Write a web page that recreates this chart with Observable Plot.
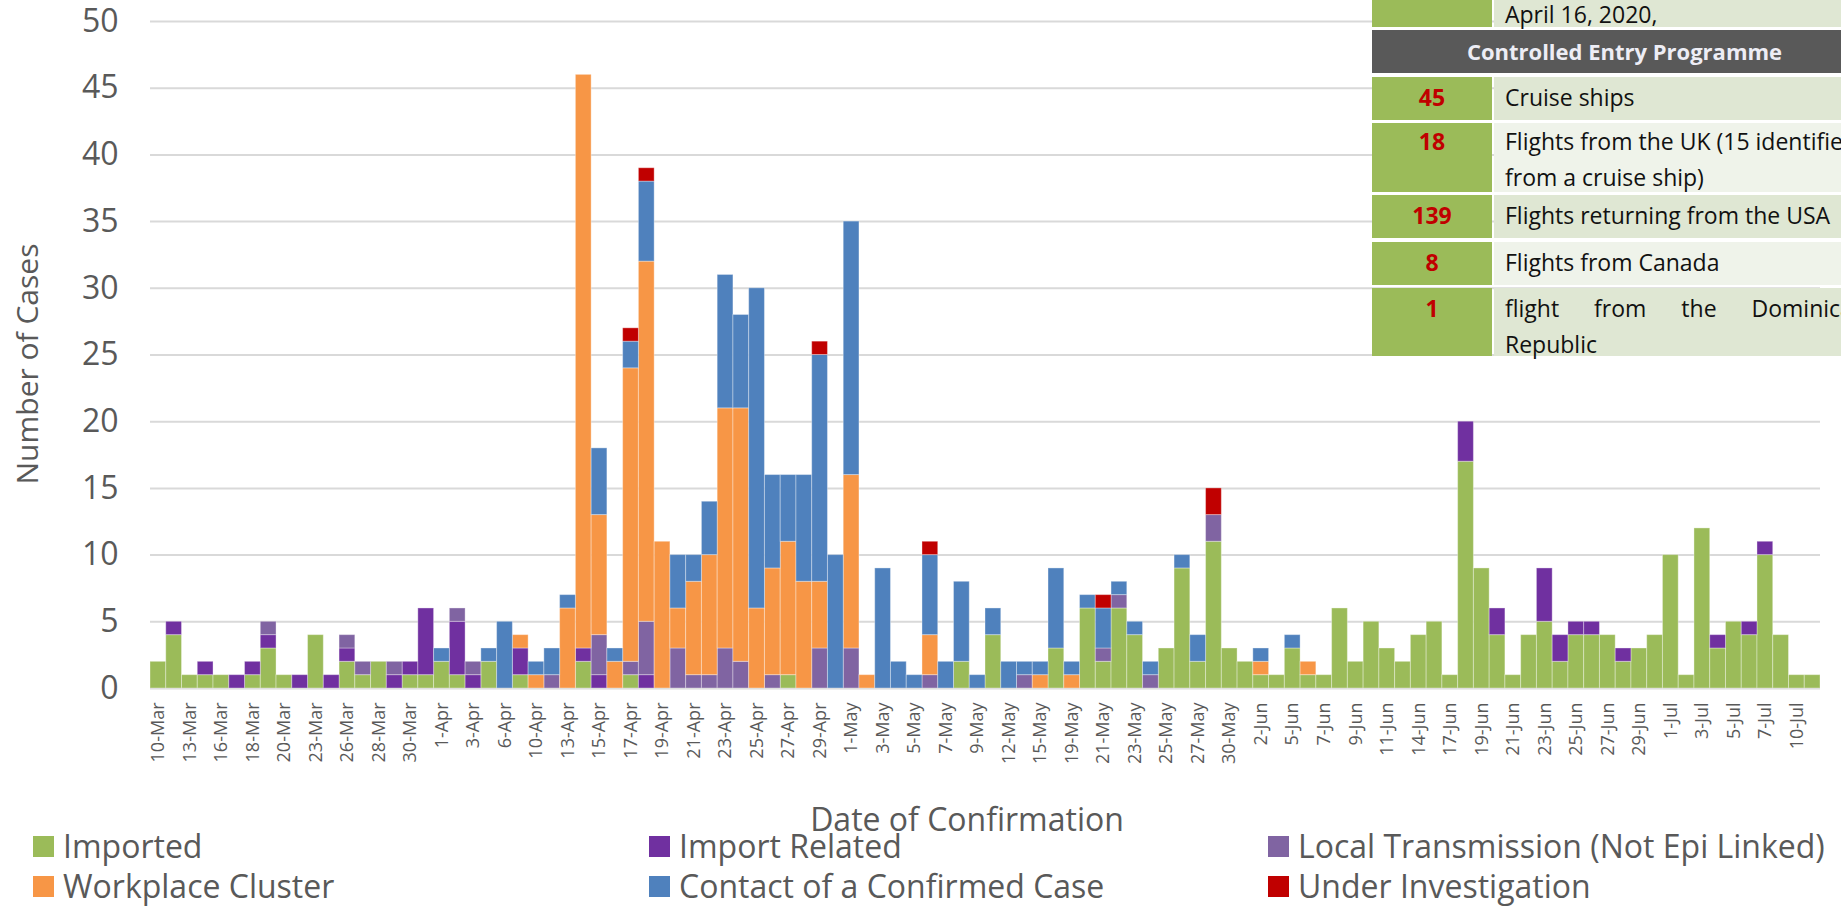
<!DOCTYPE html>
<html>
<head>
<meta charset="utf-8">
<script src="https://cdn.jsdelivr.net/npm/d3@7"></script>
<script src="https://cdn.jsdelivr.net/npm/@observablehq/plot@0.6"></script>
<style>
  html, body { margin: 0; padding: 0; overflow: hidden; background: #fff; }
  #wrap { position: relative; width: 1841px; height: 907px; overflow: hidden; font-family: "Open Sans", sans-serif; color: #595959; }
  #chart { position: absolute; left: 0; top: 0; }
  #xtitle { position: absolute; top: 803px; left: 967px; transform: translateX(-50%); font-size: 32px; line-height: 32px; white-space: nowrap; }
  .leg { position: absolute; height: 36px; display: flex; align-items: center; font-size: 32px; line-height: 1; white-space: nowrap; }
  .leg .sw { width: 21px; height: 21px; margin-right: 9px; flex: none; }
  #table { position: absolute; left: 1372px; top: 0; width: 505px; }
  .trow { position: absolute; left: 0; width: 505px; display: flex; }
  .c1 { width: 120px; background: #9BBB59; color: #C00000; font-weight: bold; text-align: center; font-size: 23px; line-height: 36px; box-sizing: border-box; }
  .c2 { margin-left: 2px; width: 383px; box-sizing: border-box; padding-left: 11px; padding-right: 10px; color: #111; font-size: 23px; line-height: 36px; }
  .hdr { position: absolute; left: 0; width: 505px; background: #595959; color: #EDEDF5; font-weight: bold; font-size: 22px; text-align: center; }
</style>
</head>
<body>
<div id="wrap">
  <div id="chart"></div>
  <div id="xtitle"></div>
  <div id="legend"></div>
  <div id="table"></div>
</div>
<script>
// ---------------- data ----------------
const dates = ["10-Mar","11-Mar","13-Mar","14-Mar","16-Mar","17-Mar","18-Mar","19-Mar","20-Mar","21-Mar",
"23-Mar","24-Mar","26-Mar","27-Mar","28-Mar","29-Mar","30-Mar","31-Mar","1-Apr","2-Apr",
"3-Apr","4-Apr","6-Apr","8-Apr","10-Apr","11-Apr","13-Apr","14-Apr","15-Apr","16-Apr",
"17-Apr","18-Apr","19-Apr","20-Apr","21-Apr","22-Apr","23-Apr","24-Apr","25-Apr","26-Apr",
"27-Apr","28-Apr","29-Apr","30-Apr","1-May","2-May","3-May","4-May","5-May","6-May",
"7-May","8-May","9-May","10-May","12-May","13-May","15-May","17-May","19-May","20-May",
"21-May","22-May","23-May","24-May","25-May","26-May","27-May","28-May","30-May","31-May",
"2-Jun","3-Jun","5-Jun","6-Jun","7-Jun","8-Jun","9-Jun","10-Jun","11-Jun","12-Jun",
"14-Jun","15-Jun","17-Jun","18-Jun","19-Jun","20-Jun","21-Jun","22-Jun","23-Jun","24-Jun",
"25-Jun","26-Jun","27-Jun","28-Jun","29-Jun","30-Jun","1-Jul","2-Jul","3-Jul","4-Jul",
"5-Jul","6-Jul","7-Jul","8-Jul","10-Jul","11-Jul"];

const xTickLabels = ["10-Mar","13-Mar","16-Mar","18-Mar","20-Mar","23-Mar","26-Mar","28-Mar","30-Mar",
"1-Apr","3-Apr","6-Apr","10-Apr","13-Apr","15-Apr","17-Apr","19-Apr","21-Apr","23-Apr","25-Apr","27-Apr","29-Apr",
"1-May","3-May","5-May","7-May","9-May","12-May","15-May","19-May","21-May","23-May","25-May","27-May","30-May",
"2-Jun","5-Jun","7-Jun","9-Jun","11-Jun","14-Jun","17-Jun","19-Jun","21-Jun","23-Jun","25-Jun","27-Jun","29-Jun",
"1-Jul","3-Jul","5-Jul","7-Jul","10-Jul"];

const yTicks = [0, 5, 10, 15, 20, 25, 30, 35, 40, 45, 50];

const imported = [2,4,1,1,1,0,1,3,1,0, 4,0,2,1,2,0,1,1,2,1, 0,2,0,1,0,0,0,2,0,0, 1,0,0,0,0,0,0,0,0,0,
  1,0,0,0,0,0,0,0,0,0, 0,2,0,4,0,0,0,3,0,6, 2,6,4,0,3,9,2,11,3,2, 1,1,3,1,1,6,2,5,3,2,
  4,5,1,17,9,4,1,4,5,2, 4,4,4,2,3,4,10,1,12,3, 5,4,10,4,1,1];
const importRelated = [0,1,0,1,0,1,1,1,0,1, 0,1,1,0,0,1,1,5,0,4, 1,0,0,2,0,0,0,1,1,0, 0,1,0,0,0,0,0,0,0,0,
  0,0,0,0,0,0,0,0,0,0, 0,0,0,0,0,0,0,0,0,0, 0,0,0,0,0,0,0,0,0,0, 0,0,0,0,0,0,0,0,0,0,
  0,0,0,3,0,2,0,0,4,2, 1,1,0,1,0,0,0,0,0,1, 0,1,1,0,0,0];
const localTransmission = [0,0,0,0,0,0,0,1,0,0, 0,0,1,1,0,1,0,0,0,1, 1,0,0,0,0,1,0,0,3,0, 1,4,0,3,1,1,3,2,0,1,
  0,0,3,0,3,0,0,0,0,1, 0,0,0,0,0,1,0,0,0,0, 1,1,0,1,0,0,0,2,0,0, 0,0,0,0,0,0,0,0,0,0,
  0,0,0,0,0,0,0,0,0,0, 0,0,0,0,0,0,0,0,0,0, 0,0,0,0,0,0];
const workplaceCluster = [0,0,0,0,0,0,0,0,0,0, 0,0,0,0,0,0,0,0,0,0, 0,0,0,1,1,0,6,43,9,2, 22,27,11,3,7,9,18,19,6,8,
  10,8,5,0,13,1,0,0,0,3, 0,0,0,0,0,0,1,0,1,0, 0,0,0,0,0,0,0,0,0,0, 1,0,0,1,0,0,0,0,0,0,
  0,0,0,0,0,0,0,0,0,0, 0,0,0,0,0,0,0,0,0,0, 0,0,0,0,0,0];
const contactCase = [0,0,0,0,0,0,0,0,0,0, 0,0,0,0,0,0,0,0,1,0, 0,1,5,0,1,2,1,0,5,1, 2,6,0,4,2,4,10,7,24,7,
  5,8,17,10,19,0,9,2,1,6, 2,6,1,2,2,1,1,6,1,1, 3,1,1,1,0,1,2,0,0,0, 1,0,1,0,0,0,0,0,0,0,
  0,0,0,0,0,0,0,0,0,0, 0,0,0,0,0,0,0,0,0,0, 0,0,0,0,0,0];
const underInvestigation = [0,0,0,0,0,0,0,0,0,0, 0,0,0,0,0,0,0,0,0,0, 0,0,0,0,0,0,0,0,0,0, 1,1,0,0,0,0,0,0,0,0,
  0,0,1,0,0,0,0,0,0,1, 0,0,0,0,0,0,0,0,0,0, 1,0,0,0,0,0,0,2,0,0, 0,0,0,0,0,0,0,0,0,0,
  0,0,0,0,0,0,0,0,0,0, 0,0,0,0,0,0,0,0,0,0, 0,0,0,0,0,0];

const seriesNames = ["Imported", "Import Related", "Local Transmission (Not Epi Linked)",
  "Workplace Cluster", "Contact of a Confirmed Case", "Under Investigation"];
const seriesColors = ["#9BBB59", "#7030A0", "#8064A2", "#F79646", "#4F81BD", "#C00000"];

const tableTopLine = "April 16, 2020,";
const tableHeader = "Controlled Entry Programme";
const entryCounts = ["45", "18", "139", "8", "1"];
const entryLabels = ["Cruise ships", "Flights from the UK (15 identified from a cruise ship)",
  "Flights returning from the USA", "Flights from Canada", "flight from the Dominican Republic"];

const yTitle = "Number of Cases";
const xTitle = "Date of Confirmation";

// ---------------- chart ----------------
const seriesValues = [imported, importRelated, localTransmission, workplaceCluster, contactCase, underInvestigation];
const rows = [];
seriesValues.forEach((vals, s) => vals.forEach((v, i) => {
  if (v > 0) rows.push({date: dates[i], series: seriesNames[s], value: v});
}));

const chart = Plot.plot({
  width: 1841,
  height: 790,
  marginLeft: 150,
  marginRight: 21,
  marginTop: 21,
  marginBottom: 102,
  style: {fontFamily: "'Open Sans', sans-serif", color: "#595959", background: "white", overflow: "visible"},
  x: {type: "band", domain: dates, padding: 0, round: false, label: null},
  y: {domain: [0, 50], label: null},
  color: {domain: seriesNames, range: seriesColors},
  marks: [
    Plot.gridY(yTicks, {stroke: "#d9d9d9", strokeOpacity: 1, strokeWidth: 2}),
    Plot.barY(rows, Plot.stackY({
      x: "date", y: "value", fill: "series", order: seriesNames,
      stroke: "white", strokeOpacity: 0.35, strokeWidth: 1
    })),
    Plot.axisY(yTicks, {tickSize: 0, tickPadding: 32, fontSize: 32, fill: "#595959"}),
    Plot.axisX(xTickLabels, {tickSize: 0, tickPadding: 14, tickRotate: -90, fontSize: 18, fill: "#595959"}),
    Plot.text([yTitle], {text: d => d, frameAnchor: "left", textAnchor: "middle", rotate: -90, dx: -122, dy: 9, fontSize: 30, fill: "#595959"})
  ]
});
document.getElementById("chart").appendChild(chart);

// ---------------- x title ----------------
document.getElementById("xtitle").textContent = xTitle;

// ---------------- legend ----------------
const legend = document.getElementById("legend");
const legCols = [33, 649, 1268];
const legRows = [828, 868];
const legOrder = [0, 3, 1, 4, 2, 5]; // column-major arrangement
legOrder.forEach((s, i) => {
  const col = Math.floor(i / 2), row = i % 2;
  const el = document.createElement("div");
  el.className = "leg";
  el.style.left = legCols[col] + "px";
  el.style.top = legRows[row] + "px";
  const sw = document.createElement("div");
  sw.className = "sw";
  sw.style.background = seriesColors[s];
  const tx = document.createElement("span");
  tx.textContent = seriesNames[s];
  el.appendChild(sw); el.appendChild(tx);
  legend.appendChild(el);
});

// ---------------- table ----------------
const table = document.getElementById("table");
function makeRow(top, height, count, label, bg, justify, padTop) {
  const r = document.createElement("div");
  r.className = "trow";
  r.style.top = top + "px";
  r.style.height = height + "px";
  const a = document.createElement("div");
  a.className = "c1";
  a.style.paddingTop = padTop + "px";
  a.textContent = count;
  const b = document.createElement("div");
  b.className = "c2";
  b.style.background = bg;
  b.style.paddingTop = padTop + "px";
  if (justify) { b.style.textAlign = "justify"; }
  b.textContent = label;
  r.appendChild(a); r.appendChild(b);
  table.appendChild(r);
}
makeRow(-4, 31, "", tableTopLine, "#DFE7D3", false, 0);
const hdr = document.createElement("div");
hdr.className = "hdr";
hdr.style.top = "30px"; hdr.style.height = "43px"; hdr.style.lineHeight = "43px";
hdr.textContent = tableHeader;
table.appendChild(hdr);
const rowTops = [77, 123, 195, 242, 288];
const rowHeights = [43, 69, 43, 43, 68];
const rowBgs = ["#DFE7D3", "#EFF3EA", "#DFE7D3", "#EFF3EA", "#DFE7D3"];
entryCounts.forEach((c, i) => {
  makeRow(rowTops[i], rowHeights[i], c, entryLabels[i], rowBgs[i], i === 4, i === 1 ? 0 : 2);
});
</script>
</body>
</html>
